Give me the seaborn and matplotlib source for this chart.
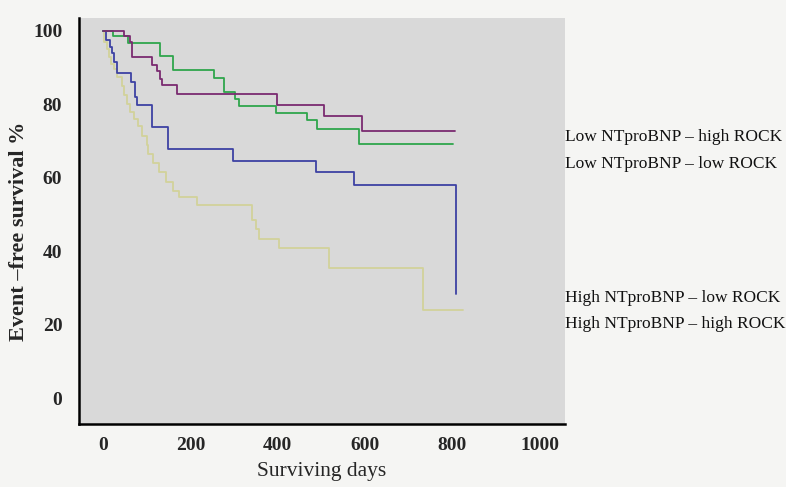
import numpy as np
import pandas as pd
import matplotlib
matplotlib.use("Agg")
import matplotlib.pyplot as plt
import seaborn as sns

# ---- data ----
groups = ["Low NTproBNP – high ROCK", "Low NTproBNP – low ROCK",
          "High NTproBNP – low ROCK", "High NTproBNP – high ROCK"]

lh_days = [0, 47, 62, 66, 112, 123, 131, 135, 169, 399, 506, 593, 805]
lh_surv = [100, 98.6, 97, 93, 90.7, 89, 87, 85.4, 82.8, 79.8, 76.8, 72.8, 72.8]

ll_days = [0, 23, 57, 131, 161, 254, 277, 301, 311, 395, 468, 491, 587, 802]
ll_surv = [100, 98.6, 96.6, 93.1, 89.3, 87.3, 83.4, 81.5, 79.6, 77.6, 75.7, 73.3, 69.1, 69.1]

hl_days = [0, 7, 16, 20, 24, 31, 64, 74, 77, 113, 148, 298, 487, 574, 807]
hl_surv = [100, 97.5, 95.7, 93.9, 91.6, 88.6, 86, 82, 79.8, 73.9, 67.8, 64.7, 61.7, 58.2, 28.5]

hh_days = [0, 3, 8, 13, 18, 24, 33, 43, 48, 55, 62, 70, 80, 90, 100, 104, 115, 128,
           145, 160, 175, 215, 342, 350, 356, 403, 518, 733, 825]
hh_surv = [100, 97, 95, 93, 91, 89.5, 87.5, 85, 82.5, 80, 78, 76, 74, 71.5, 69, 66.5, 64, 61.5,
           59, 56.5, 54.7, 52.5, 48.5, 46, 43.5, 41, 35.6, 24, 24]

x_ticks = [0, 200, 400, 600, 800, 1000]
y_ticks = [0, 20, 40, 60, 80, 100]

colors = {groups[0]: "#7a2a70", groups[1]: "#2fa54c",
          groups[2]: "#3d42a3", groups[3]: "#d2d29a"}

frames = []
for g, d, s in [(groups[0], lh_days, lh_surv), (groups[1], ll_days, ll_surv),
                (groups[2], hl_days, hl_surv), (groups[3], hh_days, hh_surv)]:
    frames.append(pd.DataFrame({"days": d, "surv": s, "group": g}))
df = pd.concat(frames, ignore_index=True)

sns.set_theme(style="white")
plt.rcParams["font.family"] = ["Liberation Serif", "DejaVu Serif"]

fig = plt.figure(figsize=(7.86, 4.87), dpi=100, facecolor="#f5f5f3")
ax = fig.add_axes([0.1005, 0.129, 0.618, 0.834])
ax.set_facecolor("#d9d9d9")

hue_order = [groups[3], groups[2], groups[1], groups[0]]
sns.lineplot(data=df, x="days", y="surv", hue="group", hue_order=hue_order,
             palette=colors, estimator=None, sort=False, drawstyle="steps-post",
             linewidth=1.3, legend=False, ax=ax)

ax.set_xlim(-55, 1057)
ax.set_ylim(-7, 103.5)
ax.set_xticks(x_ticks)
ax.set_yticks(y_ticks)
ax.set_xticklabels([str(t) for t in x_ticks], fontsize=14, fontweight="bold")
ax.set_yticklabels([str(t) for t in y_ticks], fontsize=14, fontweight="bold")
ax.tick_params(axis="x", direction="out", length=4, width=1.5, color="black", pad=5)
ax.tick_params(axis="y", direction="out", length=4, width=1.5, color="black", pad=8)

for side in ["top", "right"]:
    ax.spines[side].set_visible(False)
for side in ["left", "bottom"]:
    ax.spines[side].set_color("black")
    ax.spines[side].set_linewidth(1.8)

ax.set_xlabel("Surviving days", fontsize=15.5, labelpad=6)
ax.set_ylabel("Event –free survival %", fontsize=16, fontweight="bold")
ax.yaxis.set_label_coords(-0.102, 0.475)

# right-side group labels
label_y = {groups[0]: 137, groups[1]: 164, groups[2]: 298, groups[3]: 324}
for g, yp in label_y.items():
    fig.text(565 / 786, 1 - yp / 487, g, fontsize=12.5, va="center", ha="left", color="#111111")

fig.savefig("out.png", dpi=100, facecolor=fig.get_facecolor())
